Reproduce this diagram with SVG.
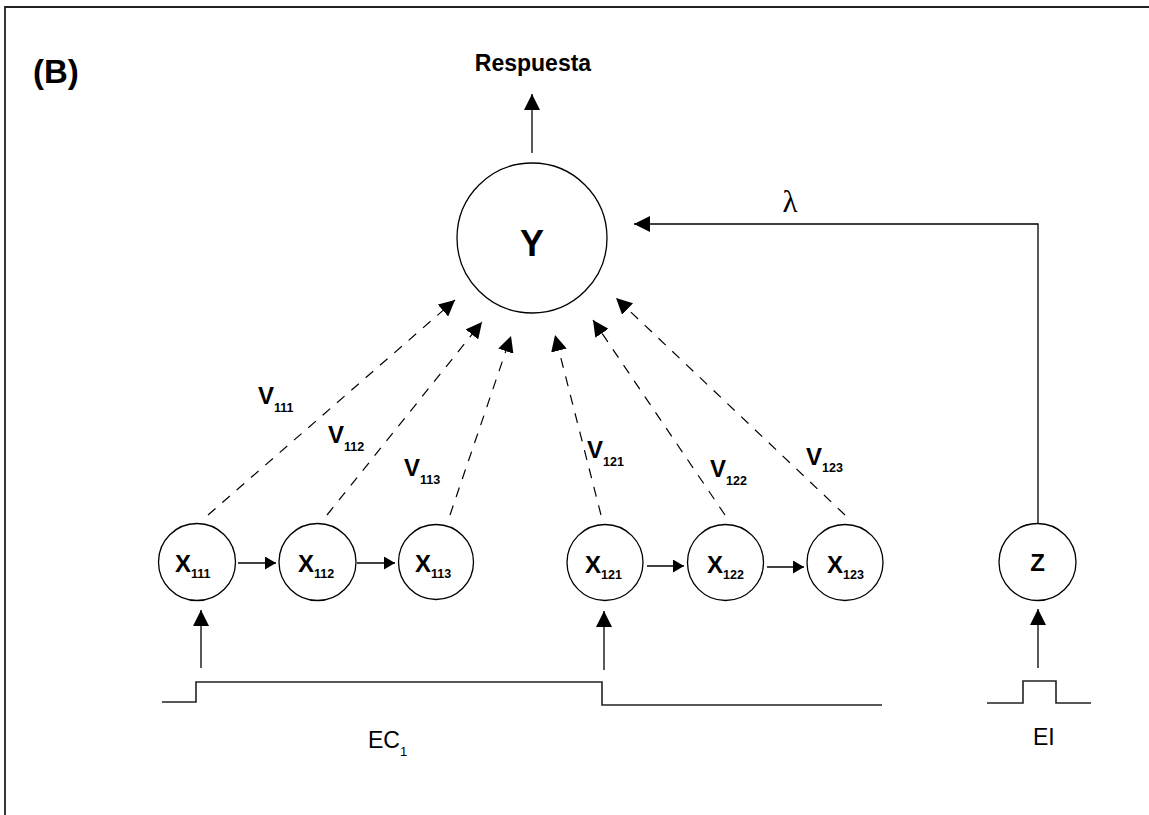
<svg xmlns="http://www.w3.org/2000/svg" width="1149" height="815" viewBox="0 0 1149 815">
<style>
.node{fill:#fff;stroke:#000;stroke-width:1.3}
.c{stroke:#000;stroke-width:1.3;fill:none}
.d{stroke:#000;stroke-width:1.2;fill:none;stroke-dasharray:10 9}
.sig{stroke:#222;stroke-width:1.6;fill:none}
.b{font-family:"Liberation Sans",Arial,sans-serif;font-weight:bold;fill:#000}
.r{font-family:"Liberation Sans",Arial,sans-serif;fill:#000}
</style>
<defs>
<marker id="ah" markerUnits="userSpaceOnUse" markerWidth="16" markerHeight="16" refX="16" refY="8" orient="auto" viewBox="0 0 16 16"><path d="M0,0 L16,8 L0,16 z" fill="#000"/></marker>
<marker id="as" markerUnits="userSpaceOnUse" markerWidth="11" markerHeight="13" refX="11" refY="6.5" orient="auto" viewBox="0 0 11 13"><path d="M0,0 L11,6.5 L0,13 z" fill="#000"/></marker>
</defs>
<rect width="1149" height="815" fill="#fff"/>
<g id="frame"><path d="M5,815 V7 H1149" fill="none" stroke="#222" stroke-width="1.8"/></g>
<g id="label-B"><text class="b" x="33" y="83" font-size="33">(B)</text></g>
<g id="respuesta"><text class="b" x="533" y="71" font-size="23" text-anchor="middle">Respuesta</text></g>
<g id="connectors">
<line class="c" x1="532" y1="153" x2="532" y2="94" marker-end="url(#ah)"/>
<polyline class="c" points="1038,524 1038,224 634,224" marker-end="url(#ah)"/>
<line class="d" x1="208" y1="515" x2="455" y2="300" marker-end="url(#ah)"/>
<line class="d" x1="327" y1="515" x2="482" y2="322" marker-end="url(#ah)"/>
<line class="d" x1="450" y1="515" x2="511" y2="336" marker-end="url(#ah)"/>
<line class="d" x1="601" y1="515" x2="555" y2="335" marker-end="url(#ah)"/>
<line class="d" x1="725" y1="515" x2="593" y2="320" marker-end="url(#ah)"/>
<line class="d" x1="845" y1="515" x2="616" y2="298" marker-end="url(#ah)"/>
<line class="c" x1="238" y1="563" x2="276" y2="563" marker-end="url(#as)"/>
<line class="c" x1="357" y1="563" x2="395" y2="563" marker-end="url(#as)"/>
<line class="c" x1="647" y1="566" x2="684" y2="566" marker-end="url(#as)"/>
<line class="c" x1="767" y1="567" x2="804" y2="567" marker-end="url(#as)"/>
<line class="c" x1="201" y1="668" x2="201" y2="610" marker-end="url(#ah)"/>
<line class="c" x1="604" y1="670" x2="604" y2="611" marker-end="url(#ah)"/>
<line class="c" x1="1038" y1="668" x2="1038" y2="609" marker-end="url(#ah)"/>
</g>
<g id="lambda"><text x="790" y="212" font-family="'Liberation Serif','DejaVu Serif',serif" font-size="31" text-anchor="middle">λ</text></g>
<g id="Y"><circle class="node" cx="532" cy="238" r="75"/><text class="b" x="532" y="256" font-size="36" text-anchor="middle">Y</text></g>
<g id="X111"><circle class="node" cx="197" cy="562" r="38.5"/><text class="b" x="175" y="572" font-size="24">X<tspan font-size="12.5" dy="6">111</tspan></text></g>
<g id="X112"><circle class="node" cx="317.5" cy="562" r="38.5"/><text class="b" x="298" y="572" font-size="24">X<tspan font-size="12.5" dy="6">112</tspan></text></g>
<g id="X113"><circle class="node" cx="436" cy="562" r="37.5"/><text class="b" x="415" y="572" font-size="24">X<tspan font-size="12.5" dy="6">113</tspan></text></g>
<g id="X121"><circle class="node" cx="605" cy="562.5" r="38"/><text class="b" x="585" y="573" font-size="24">X<tspan font-size="12.5" dy="6">121</tspan></text></g>
<g id="X122"><circle class="node" cx="725.5" cy="562.5" r="38"/><text class="b" x="707" y="573" font-size="24">X<tspan font-size="12.5" dy="6">122</tspan></text></g>
<g id="X123"><circle class="node" cx="845" cy="562.5" r="38"/><text class="b" x="827" y="573" font-size="24">X<tspan font-size="12.5" dy="6">123</tspan></text></g>
<g id="Z"><circle class="node" cx="1037.5" cy="562" r="38.5"/><text class="b" x="1037.5" y="571" font-size="24" text-anchor="middle">Z</text></g>
<g id="v-labels">
<text class="b" x="258" y="404" font-size="24">V<tspan font-size="12.5" dy="8">111</tspan></text>
<text class="b" x="328" y="443" font-size="24">V<tspan font-size="12.5" dy="8">112</tspan></text>
<text class="b" x="404" y="476" font-size="24">V<tspan font-size="12.5" dy="8">113</tspan></text>
<text class="b" x="587" y="458" font-size="24">V<tspan font-size="12.5" dy="8">121</tspan></text>
<text class="b" x="710" y="477" font-size="24">V<tspan font-size="12.5" dy="8">122</tspan></text>
<text class="b" x="806" y="465" font-size="24">V<tspan font-size="12.5" dy="7">123</tspan></text>
</g>
<g id="EC-signal"><polyline class="sig" points="162,702 196,702 196,682 602,682 602,705 882,705"/><text class="r" x="368" y="748" font-size="23">EC<tspan font-size="13" dy="8">1</tspan></text></g>
<g id="EI-signal"><polyline class="sig" points="987,703 1023,703 1023,681 1056,681 1056,703 1091,703"/><text class="r" x="1033" y="745" font-size="23">EI</text></g>
</svg>
